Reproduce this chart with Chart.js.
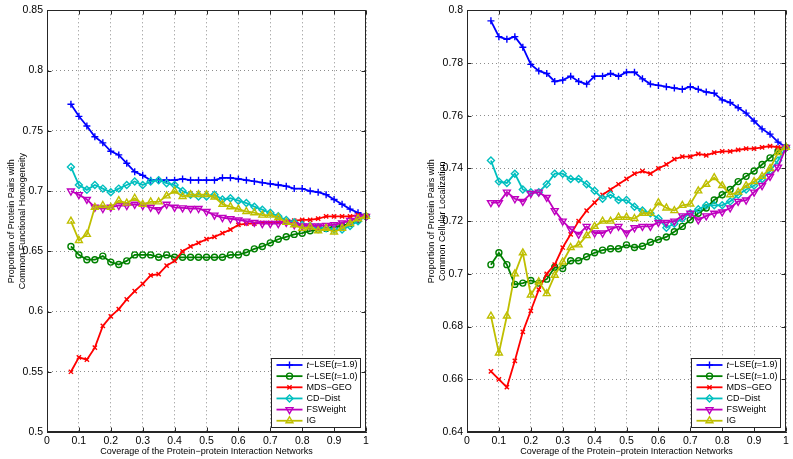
<!DOCTYPE html>
<html>
<head>
<meta charset="utf-8">
<script src="https://cdn.jsdelivr.net/npm/chart.js@4.4.0/dist/chart.umd.min.js"></script>
<style>
html, body { margin: 0; padding: 0; background: #fff; overflow: hidden; }
#wrap { position: relative; width: 793px; height: 459px; }
canvas { position: absolute; top: 0; }
</style>
</head>
<body>
<div id="wrap">
  <canvas id="funcChart" width="373" height="459" style="left:0px"></canvas>
  <canvas id="locChart" width="373" height="459" style="left:420px"></canvas>
</div>
<script>
// coverage of the PPI network (x axis)
const coverage = [0.075, 0.1, 0.125, 0.15, 0.175, 0.2, 0.225, 0.25, 0.275, 0.3,
  0.325, 0.35, 0.375, 0.4, 0.425, 0.45, 0.475, 0.5, 0.525, 0.55,
  0.575, 0.6, 0.625, 0.65, 0.675, 0.7, 0.725, 0.75, 0.775, 0.8,
  0.825, 0.85, 0.875, 0.9, 0.925, 0.95, 0.975, 1.0];

const legendLabels = ['t−LSE(t=1.9)', 't−LSE(t=1.0)', 'MDS−GEO', 'CD−Dist', 'FSWeight', 'IG'];

// left: common functional homogeneity
const funcLse19 = [0.772,0.762,0.754,0.745,0.740,0.733,0.730,0.723,0.716,0.713,
  0.709,0.709,0.709,0.709,0.710,0.709,0.709,0.709,0.709,0.711,
  0.711,0.710,0.709,0.708,0.707,0.706,0.705,0.704,0.702,0.702,
  0.700,0.699,0.697,0.693,0.689,0.685,0.682,0.679];
const funcLse10 = [0.654,0.647,0.643,0.643,0.646,0.641,0.639,0.642,0.647,0.647,
  0.647,0.645,0.647,0.645,0.645,0.645,0.645,0.645,0.645,0.645,
  0.647,0.647,0.649,0.652,0.654,0.657,0.660,0.662,0.664,0.665,
  0.667,0.668,0.669,0.670,0.671,0.673,0.676,0.679];
const funcMds = [0.550,0.562,0.560,0.570,0.588,0.596,0.602,0.610,0.617,0.623,
  0.630,0.631,0.638,0.642,0.650,0.654,0.657,0.660,0.662,0.665,
  0.668,0.672,0.673,0.673,0.6735,0.6735,0.674,0.675,0.6755,0.676,
  0.676,0.677,0.679,0.679,0.679,0.679,0.680,0.679];
const funcCd = [0.720,0.705,0.701,0.705,0.702,0.699,0.702,0.705,0.708,0.705,
  0.708,0.709,0.7065,0.705,0.700,0.697,0.6955,0.6955,0.697,0.693,
  0.694,0.692,0.690,0.687,0.6845,0.682,0.679,0.676,0.674,0.672,
  0.671,0.670,0.669,0.668,0.668,0.671,0.675,0.679];
const funcFs = [0.700,0.697,0.693,0.6865,0.6855,0.6865,0.688,0.688,0.689,0.688,
  0.6865,0.6845,0.689,0.6865,0.686,0.6855,0.6855,0.683,0.680,0.678,
  0.677,0.676,0.675,0.674,0.673,0.673,0.673,0.674,0.672,0.671,
  0.671,0.671,0.6715,0.672,0.6735,0.6755,0.678,0.679];
const funcIg = [0.675,0.659,0.664,0.6865,0.688,0.6865,0.692,0.690,0.694,0.689,
  0.691,0.691,0.696,0.700,0.6955,0.697,0.697,0.697,0.695,0.689,
  0.687,0.685,0.683,0.682,0.680,0.680,0.678,0.674,0.672,0.669,
  0.670,0.667,0.669,0.666,0.669,0.673,0.677,0.679];

// right: common cellular localization
const locLse19 = [0.796,0.790,0.789,0.790,0.786,0.7795,0.777,0.776,0.773,0.7735,
  0.775,0.773,0.772,0.775,0.775,0.776,0.775,0.7765,0.7765,0.774,
  0.772,0.7715,0.771,0.7705,0.770,0.771,0.770,0.769,0.7685,0.766,
  0.765,0.763,0.761,0.758,0.755,0.753,0.750,0.748];
const locLse10 = [0.7035,0.708,0.7035,0.696,0.6965,0.6975,0.6965,0.698,0.7025,0.702,
  0.705,0.705,0.7065,0.708,0.709,0.7095,0.7095,0.711,0.710,0.7105,
  0.712,0.713,0.714,0.716,0.718,0.7205,0.723,0.725,0.728,0.730,
  0.732,0.735,0.737,0.739,0.7415,0.744,0.7465,0.748];
const locMds = [0.663,0.660,0.657,0.667,0.678,0.686,0.694,0.700,0.7035,0.710,
  0.715,0.720,0.724,0.727,0.730,0.732,0.734,0.736,0.738,0.739,
  0.738,0.740,0.7415,0.7435,0.7445,0.7445,0.7455,0.745,0.746,0.7465,
  0.7465,0.747,0.7475,0.7475,0.748,0.7485,0.748,0.748];
const locCd = [0.743,0.735,0.7345,0.738,0.732,0.731,0.731,0.734,0.738,0.738,
  0.736,0.736,0.734,0.7315,0.7285,0.730,0.728,0.728,0.7255,0.724,
  0.723,0.721,0.7175,0.719,0.721,0.723,0.7245,0.726,0.726,0.726,
  0.7275,0.730,0.732,0.7335,0.736,0.739,0.743,0.748];
const locFs = [0.727,0.727,0.731,0.7285,0.7275,0.7305,0.731,0.729,0.724,0.720,
  0.717,0.715,0.718,0.7155,0.7155,0.717,0.718,0.7155,0.7175,0.718,
  0.718,0.7195,0.7195,0.720,0.722,0.723,0.7205,0.722,0.723,0.7235,
  0.725,0.7275,0.728,0.731,0.7335,0.737,0.7405,0.748];
const locIg = [0.684,0.670,0.684,0.700,0.708,0.692,0.697,0.6925,0.6995,0.7045,
  0.710,0.711,0.7145,0.718,0.720,0.720,0.7215,0.7215,0.721,0.723,
  0.723,0.727,0.725,0.724,0.726,0.7265,0.7315,0.734,0.7365,0.7335,
  0.730,0.731,0.7335,0.735,0.737,0.740,0.746,0.748];

const FONT = '"Liberation Sans", Arial, Helvetica, sans-serif';
const AXIS = '#262626';

// matlab-ish line styles: color, marker, size, rotation
const styles = [
  { color: '#0000ff', point: 'cross', r: 3.5, rot: 0 },
  { color: '#008000', point: 'circle', r: 3, rot: 0 },
  { color: '#ff0000', point: 'crossRot', r: 3, rot: 0 },
  { color: '#00bfbf', point: 'rectRot', r: 3.5, rot: 0 },
  { color: '#bf00bf', point: 'triangle', r: 4, rot: 180 },
  { color: '#bfbf00', point: 'triangle', r: 4, rot: 0 }
];

const fmt = (v) => String(Math.round(v * 100) / 100);

function makeSet(i, values) {
  const s = styles[i];
  return {
    label: legendLabels[i],
    data: coverage.map((x, k) => ({ x: x, y: values[k] })),
    borderColor: s.color,
    backgroundColor: 'rgba(0,0,0,0)',
    pointBorderColor: s.color,
    pointBackgroundColor: 'rgba(0,0,0,0)',
    pointStyle: s.point,
    pointRadius: s.r,
    pointRotation: s.rot,
    pointBorderWidth: 1.4,
    borderWidth: 1.8,
    tension: 0,
    clip: false,
    order: 6 - i
  };
}

function drawMarker(ctx, s, x, y) {
  if (Chart.helpers && Chart.helpers.drawPoint) {
    Chart.helpers.drawPoint(ctx, { pointStyle: s.point, radius: s.r, rotation: s.rot, borderWidth: 1.4 }, x, y);
  }
}

// box, inward ticks and legend drawn on top like matlab
const boxLegend = {
  id: 'boxLegend',
  afterDraw(chart) {
    const ctx = chart.ctx;
    const a = chart.chartArea;
    const xs = chart.scales.x, ys = chart.scales.y;
    ctx.save();
    ctx.strokeStyle = AXIS;
    ctx.lineWidth = 1;
    const L = Math.round(a.left) + 0.5, R = Math.round(a.right) - 0.5;
    const T = Math.round(a.top) + 0.5, B = Math.round(a.bottom) - 0.5;
    ctx.strokeRect(L, T, R - L, B - T);
    ctx.beginPath();
    xs.ticks.forEach(t => {
      const p = Math.round(xs.getPixelForValue(t.value)) + 0.5;
      ctx.moveTo(p, B); ctx.lineTo(p, B - 4);
      ctx.moveTo(p, T); ctx.lineTo(p, T + 4);
    });
    ys.ticks.forEach(t => {
      const p = Math.round(ys.getPixelForValue(t.value)) + 0.5;
      ctx.moveTo(L, p); ctx.lineTo(L + 4, p);
      ctx.moveTo(R, p); ctx.lineTo(R - 4, p);
    });
    ctx.stroke();

    // legend
    const rowH = 11.15;
    const font = '9px ' + FONT;
    const ifont = 'italic 9px ' + FONT;
    ctx.font = font;
    let maxW = 0;
    legendLabels.forEach(l => { maxW = Math.max(maxW, ctx.measureText(l).width); });
    const w = Math.round(maxW + 38);
    const h = Math.round(rowH * 5 + 13.5);
    const bx = Math.round(a.right - 6 - w) + 0.5;
    const by = Math.round(a.bottom - 5 - h) + 0.5;
    ctx.fillStyle = '#fff';
    ctx.fillRect(bx, by, w, h);
    ctx.strokeStyle = AXIS;
    ctx.strokeRect(bx, by, w, h);
    ctx.textBaseline = 'middle';
    legendLabels.forEach((label, i) => {
      const s = styles[i];
      const y = by + 6.5 + i * rowH;
      ctx.strokeStyle = s.color;
      ctx.lineWidth = 1.8;
      ctx.beginPath();
      ctx.moveTo(bx + 5, y); ctx.lineTo(bx + 31, y);
      ctx.stroke();
      ctx.fillStyle = 'rgba(0,0,0,0)';
      ctx.lineWidth = 1.4;
      drawMarker(ctx, s, bx + 18, y);
      ctx.fillStyle = '#000';
      let tx = bx + 35;
      const italicT = /^t−LSE/.test(label);
      for (const ch of label) {
        ctx.font = (italicT && ch === 't') ? ifont : font;
        ctx.fillText(ch, tx, y);
        tx += ctx.measureText(ch).width;
      }
    });
    ctx.restore();
  }
};

function makeChart(id, sets, yMin, yMax, yStep, yTitle, topPad) {
  const ctx = document.getElementById(id).getContext('2d');
  return new Chart(ctx, {
    type: 'line',
    data: { datasets: sets },
    options: {
      responsive: false,
      animation: false,
      devicePixelRatio: 1,
      layout: { padding: { top: topPad, right: 7, left: 0, bottom: 0 } },
      plugins: { legend: { display: false }, tooltip: { enabled: false } },
      scales: {
        x: {
          type: 'linear', min: 0, max: 1,
          ticks: { stepSize: 0.1, callback: fmt, color: '#000', font: { family: FONT, size: 10.5 }, padding: 3, maxRotation: 0, autoSkip: false },
          grid: { color: '#8c8c8c', drawTicks: false },
          border: { color: AXIS, dash: [1, 3] },
          title: { display: true, text: 'Coverage of the Protein−protein Interaction Networks', color: '#000', font: { family: FONT, size: 9 }, padding: { top: 0, bottom: 2 } },
          afterFit(s) { s.height = 27; }
        },
        y: {
          type: 'linear', min: yMin, max: yMax,
          ticks: { stepSize: yStep, callback: fmt, color: '#000', font: { family: FONT, size: 10.5 }, padding: 4 },
          grid: { color: '#8c8c8c', drawTicks: false },
          border: { color: AXIS, dash: [1, 3] },
          title: { display: true, text: yTitle, color: '#000', font: { family: FONT, size: 9, lineHeight: 1.2 }, padding: { top: 6, bottom: 0 } },
          afterFit(s) { s.width = 47; }
        }
      }
    },
    plugins: [boxLegend]
  });
}

makeChart('funcChart',
  [funcLse19, funcLse10, funcMds, funcCd, funcFs, funcIg].map((v, i) => makeSet(i, v)),
  0.5, 0.85, 0.05,
  ['Proportion of Protein Pairs with', 'Common Functional Homogeneity'], 8);

makeChart('locChart',
  [locLse19, locLse10, locMds, locCd, locFs, locIg].map((v, i) => makeSet(i, v)),
  0.64, 0.8, 0.02,
  ['Proportion of Protein Pairs with', 'Common Cellular Localization'], 6);
</script>
</body>
</html>
